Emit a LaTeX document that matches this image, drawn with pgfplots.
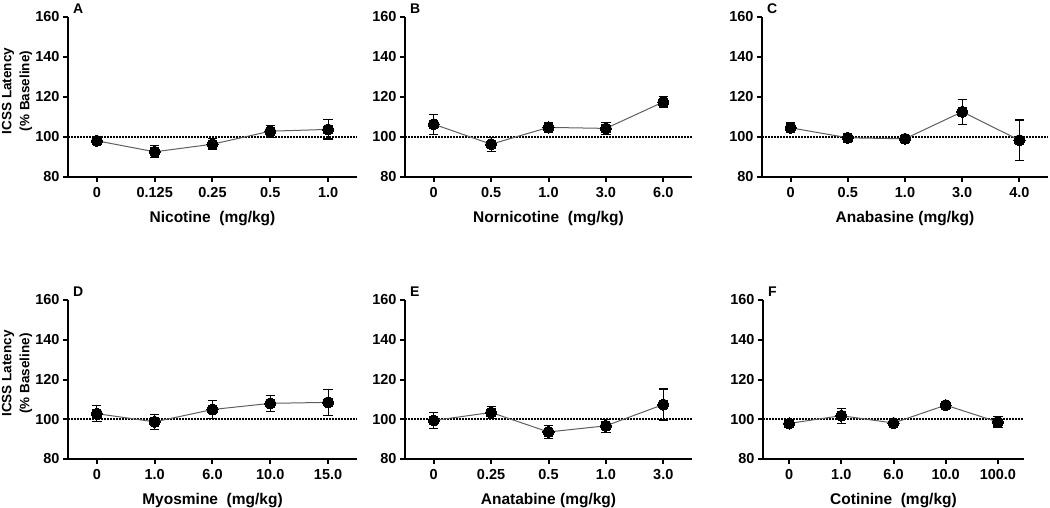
\documentclass[border=0pt]{standalone}
\usepackage{pgfplots}
\pgfplotsset{compat=1.18}
\usepackage{fontspec}
\setmainfont{Liberation Sans}
\definecolor{lnclr}{RGB}{95,95,95}

\tikzset{panlab/.style={anchor=base west, xshift=5pt, yshift=4pt, inner sep=0pt,
    font=\fontsize{14}{14}\selectfont\bfseries}}

\pgfplotsset{
  panel/.style={
    scale only axis, height=160pt,
    anchor=south west,
    axis lines=left, axis line style={line width=2.6pt, -},
    xmin=-0.5, xmax=4.5, ymin=80, ymax=160,
    ytick={80,100,...,160}, xtick={0,...,4},
    tick align=outside, major tick length=5pt,
    tick style={line width=2pt, black},
    ticklabel style={font=\fontsize{14.5}{14}\selectfont\bfseries},
    xticklabel style={yshift=-2pt},
    /pgf/number format/assume math mode=true,
    clip=false,
    every axis x label/.style={at={(axis description cs:0.5,0)}, anchor=center,
      yshift=-42pt, font=\fontsize{15.5}{16}\selectfont\bfseries},
    every axis y label/.style={at={(axis description cs:-0.1765,0.5375)}, rotate=90,
      anchor=center, align=center, font=\fontsize{13.5}{18}\selectfont\bfseries},
  },
  base/.style={black, line width=2pt, dash pattern=on 1.6pt off 1.4pt, forget plot},
  pts/.style={lnclr, line width=1pt, mark=*, mark size=5.6pt,
    mark options={fill=black, draw=black, line width=0pt},
    error bars/.cd, y dir=both, y explicit,
    error bar style={line width=1.1pt, black},
    error mark=-,
    error mark options={rotate=90, mark size=4.6pt, line width=1.1pt, black}},
}

\begin{document}
\begin{tikzpicture}
\path[use as bounding box] (0,0) rectangle (1050pt,507pt);

% A
\begin{axis}[panel, at={(68pt,330pt)}, width=289pt,
  xticklabels={0,0.125,0.25,0.5,1.0}, xlabel={Nicotine~~(mg/kg)},
  ylabel={ICSS Latency\\(\% Baseline)}]
\addplot[base] coordinates {(-0.5,100) (4.5,100)};
\addplot[pts] coordinates {(0,98.1) +- (0,1.3) (1,92.6) +- (0,3.0) (2,96.4) +- (0,2.8) (3,102.9) +- (0,3.0) (4,103.8) +- (0,4.8)};
\node[panlab] at (rel axis cs:0,1) {A};
\end{axis}

% B
\begin{axis}[panel, at={(405pt,330pt)}, width=287pt,
  xticklabels={0,0.5,1.0,3.0,6.0}, xlabel={Nornicotine~~(mg/kg)}]
\addplot[base] coordinates {(-0.5,100) (4.5,100)};
\addplot[pts] coordinates {(0,106.4) +- (0,5.0) (1,96.4) +- (0,3.5) (2,104.8) +- (0,2.3) (3,104.3) +- (0,3.0) (4,117.5) +- (0,2.8)};
\node[panlab] at (rel axis cs:0,1) {B};
\end{axis}

% C
\begin{axis}[panel, at={(762pt,330pt)}, width=286pt,
  xticklabels={0,0.5,1.0,3.0,4.0}, xlabel={Anabasine (mg/kg)}]
\addplot[base] coordinates {(-0.5,100) (4.5,100)};
\addplot[pts] coordinates {(0,104.6) +- (0,2.4) (1,99.6) +- (0,2.2) (2,99.1) +- (0,1.0) (3,112.6) +- (0,6.2) (4,98.4) +- (0,10.1)};
\node[panlab] at (rel axis cs:0,1) {C};
\end{axis}

% D
\begin{axis}[panel, at={(68pt,48pt)}, width=289pt, height=159pt,
  xticklabels={0,1.0,6.0,10.0,15.0}, xlabel={Myosmine~~(mg/kg)},
  ylabel={ICSS Latency\\(\% Baseline)}]
\addplot[base] coordinates {(-0.5,100) (4.5,100)};
\addplot[pts] coordinates {(0,102.8) +- (0,4.0) (1,98.7) +- (0,3.8) (2,104.9) +- (0,4.5) (3,108.0) +- (0,4.0) (4,108.5) +- (0,6.5)};
\node[panlab] at (rel axis cs:0,1) {D};
\end{axis}

% E
\begin{axis}[panel, at={(405pt,48pt)}, width=287pt, height=159pt,
  xticklabels={0,0.25,0.5,1.0,3.0}, xlabel={Anatabine (mg/kg)}]
\addplot[base] coordinates {(-0.5,100) (4.5,100)};
\addplot[pts] coordinates {(0,99.4) +- (0,4.0) (1,103.4) +- (0,3.0) (2,93.6) +- (0,3.1) (3,96.7) +- (0,3.3) (4,107.4) +- (0,7.8)};
\node[panlab] at (rel axis cs:0,1) {E};
\end{axis}

% F
\begin{axis}[panel, at={(763pt,48pt)}, width=261pt, height=159pt,
  xticklabels={0,1.0,6.0,10.0,100.0}, xlabel={Cotinine~~(mg/kg)}]
\addplot[base] coordinates {(-0.5,100) (4.5,100)};
\addplot[pts] coordinates {(0,97.9) +- (0,1.0) (1,101.8) +- (0,3.8) (2,98.1) +- (0,1.0) (3,107.1) +- (0,1.5) (4,98.6) +- (0,2.6)};
\node[panlab] at (rel axis cs:0,1) {F};
\end{axis}
\end{tikzpicture}
\end{document}
